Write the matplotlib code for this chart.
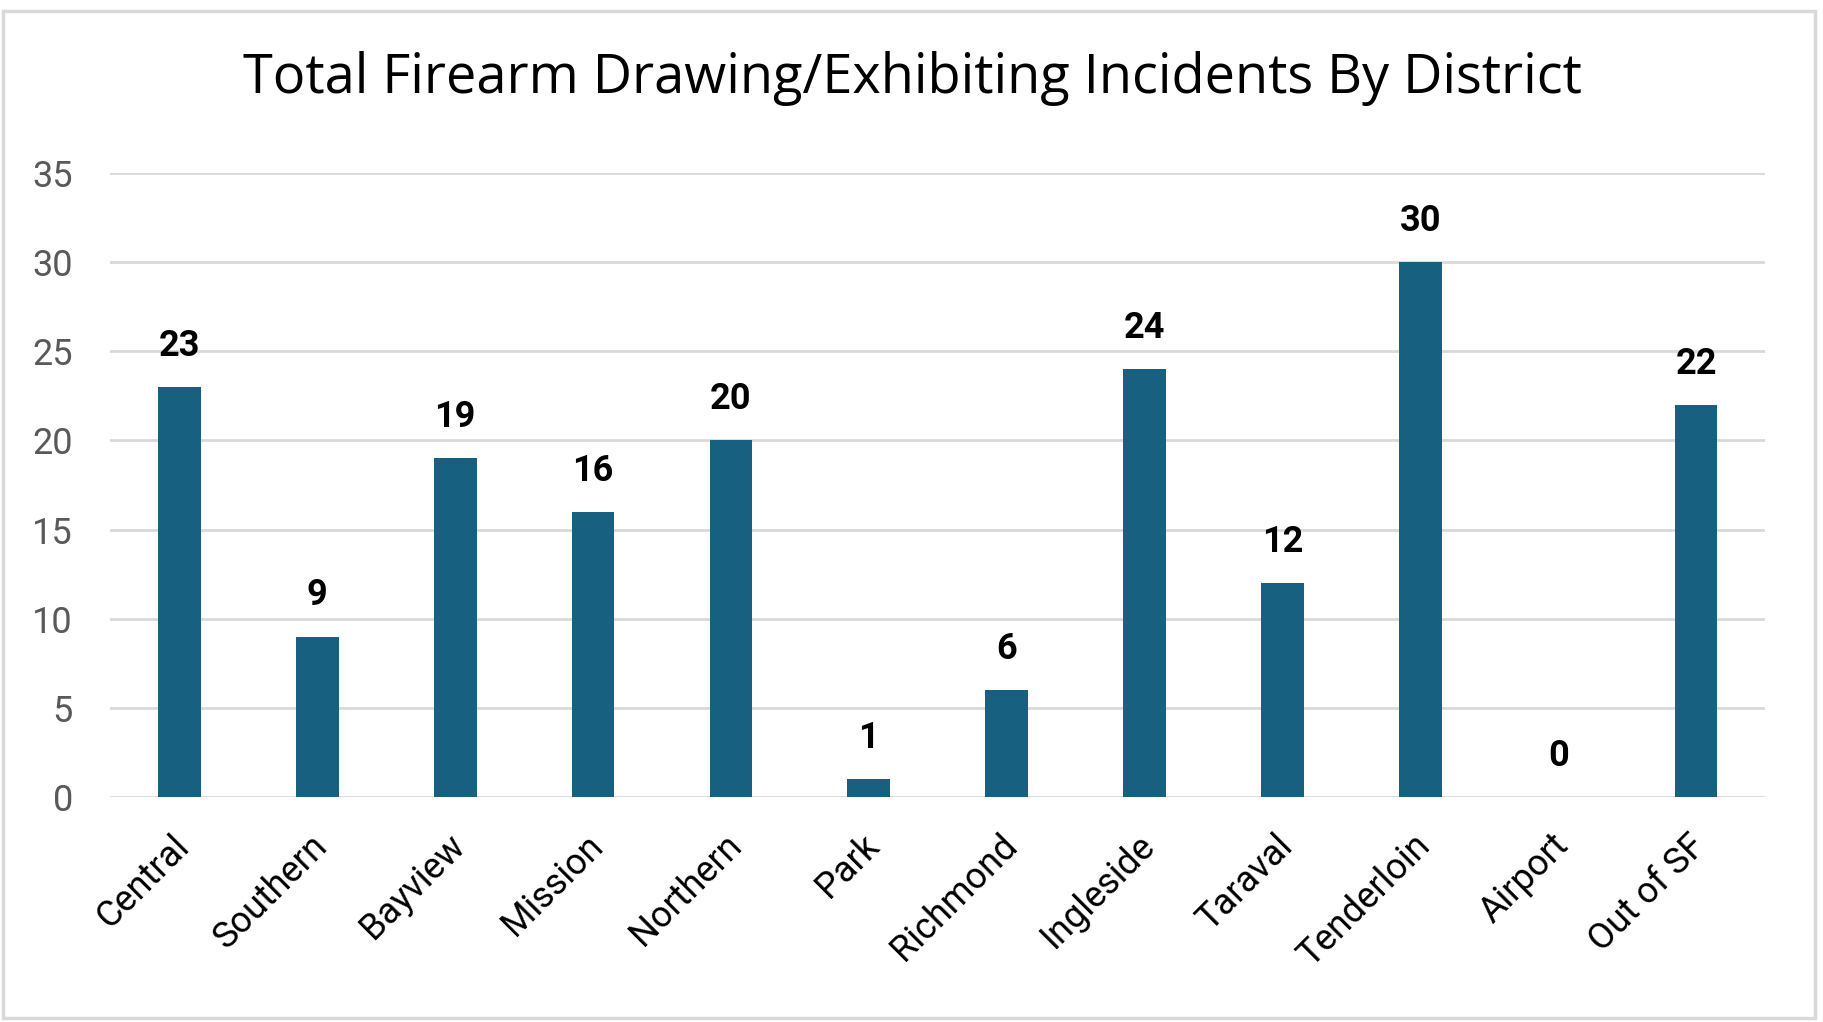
import matplotlib.pyplot as plt
import matplotlib.patches as patches
import matplotlib.transforms as mtransforms
import numpy as np

districts = ['Central', 'Southern', 'Bayview', 'Mission', 'Northern', 'Park',
             'Richmond', 'Ingleside', 'Taraval', 'Tenderloin', 'Airport', 'Out of SF']
incidents = [23, 9, 19, 16, 20, 1, 6, 24, 12, 30, 0, 22]
yticks = [0, 5, 10, 15, 20, 25, 30, 35]

plt.rcParams['font.family'] = ['Roboto', 'DejaVu Sans']

fig = plt.figure(figsize=(18.24, 10.22), dpi=100)
ax = fig.add_axes([110.5 / 1824, 1 - 797 / 1022, (1765 - 110.5) / 1824, (797 - 173) / 1022])

x = np.arange(len(districts))
ax.bar(x, incidents, width=0.31, color='#18607f', zorder=3)
for xi, v in zip(x, incidents):
    ax.text(xi, v + 1.3, str(v), ha='center', va='bottom', fontsize=26,
            fontweight='bold', color='black')

ax.set_xlim(-0.5, len(districts) - 0.5)
ax.set_ylim(0, 35)
ax.set_yticks(yticks)
ax.set_yticklabels([str(t) for t in yticks], fontsize=26, color='#595959')
ax.set_xticks(x)
ax.set_xticklabels(districts, rotation=45, ha='right', rotation_mode='anchor',
                   fontsize=26, color='black')
ax.tick_params(axis='both', length=0)
ax.tick_params(axis='y', pad=27)
ax.tick_params(axis='x', pad=22)
# nudge the rotated labels a little to the left
shift = mtransforms.ScaledTranslation(-8 / 100, 0, fig.dpi_scale_trans)
for lbl in ax.get_xticklabels():
    lbl.set_transform(lbl.get_transform() + shift)
ax.grid(axis='y', color='#d9d9d9', linewidth=2, zorder=0)
for s in ax.spines.values():
    s.set_visible(False)

fig.text(0.5, 1 - 79 / 1022, 'Total Firearm Drawing/Exhibiting Incidents By District',
         ha='center', va='center', fontsize=39, family=['Open Sans', 'DejaVu Sans'])

border = patches.Rectangle((3 / 1824, 4 / 1022), (1815 - 3) / 1824, (1011 - 4) / 1022,
                           transform=fig.transFigure, fill=False,
                           edgecolor='#d9d9d9', linewidth=2.5)
fig.patches.append(border)

fig.savefig('out.png', dpi=100)
